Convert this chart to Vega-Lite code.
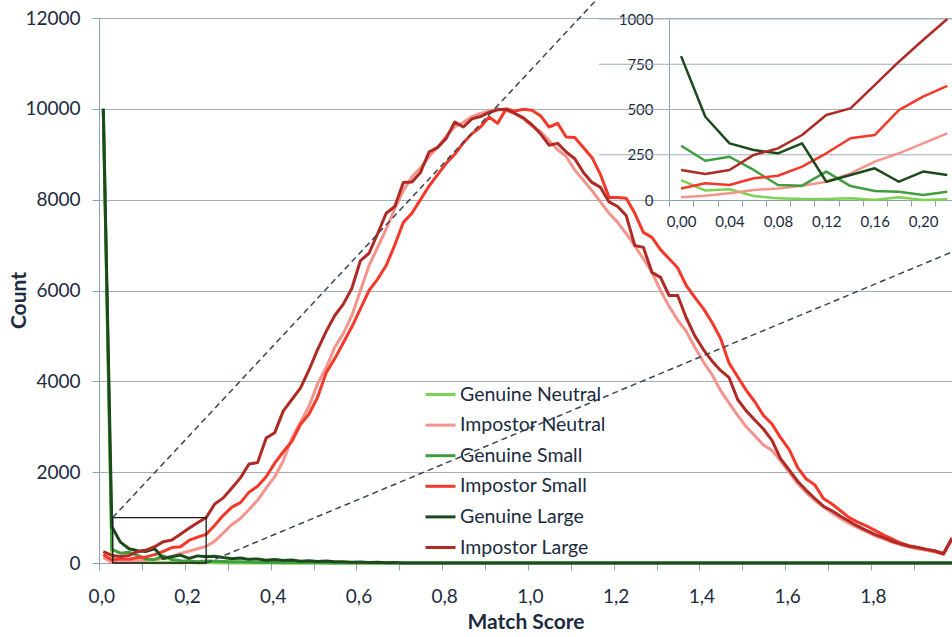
{
  "$schema": "https://vega.github.io/schema/vega-lite/v6.json",
  "width": 853,
  "height": 545,
  "autosize": {"type": "none"},
  "padding": {"left": 99, "top": 18, "right": 0, "bottom": 74},
  "background": "white",
  "config": {"view": {"stroke": null}, "font": "Lato"},
  "datasets": {
    "main": [
      {"x":0.00,"GN":10000,"IN":120,"GS":10000,"IS":180,"GL":10000,"IL":250},
      {"x":0.02,"GN":110,"IN":15,"GS":300,"IS":64,"GL":800,"IL":166},
      {"x":0.04,"GN":52,"IN":24,"GS":217,"IS":92,"GL":460,"IL":144},
      {"x":0.06,"GN":59,"IN":37,"GS":239,"IS":83,"GL":313,"IL":166},
      {"x":0.08,"GN":22,"IN":55,"GS":166,"IS":120,"GL":270,"IL":249},
      {"x":0.10,"GN":9,"IN":64,"GS":83,"IS":134,"GL":255,"IL":285},
      {"x":0.12,"GN":6,"IN":79,"GS":79,"IS":184,"GL":313,"IL":359},
      {"x":0.14,"GN":6,"IN":101,"GS":157,"IS":258,"GL":101,"IL":470},
      {"x":0.16,"GN":9,"IN":147,"GS":77,"IS":341,"GL":138,"IL":506},
      {"x":0.18,"GN":0,"IN":212,"GS":50,"IS":359,"GL":175,"IL":635},
      {"x":0.20,"GN":15,"IN":258,"GS":46,"IS":497,"GL":101,"IL":764},
      {"x":0.22,"GN":0,"IN":313,"GS":28,"IS":571,"GL":157,"IL":884},
      {"x":0.24,"GN":4,"IN":368,"GS":46,"IS":630,"GL":138,"IL":1000},
      {"x":0.26,"GN":3,"IN":480,"GS":40,"IS":830,"GL":150,"IL":1300},
      {"x":0.28,"GN":2,"IN":660,"GS":35,"IS":1050,"GL":120,"IL":1434},
      {"x":0.30,"GN":0,"IN":850,"GS":30,"IS":1230,"GL":95,"IL":1650},
      {"x":0.32,"GN":0,"IN":980,"GS":25,"IS":1330,"GL":110,"IL":1875},
      {"x":0.34,"GN":0,"IN":1180,"GS":20,"IS":1560,"GL":80,"IL":2180},
      {"x":0.36,"GN":0,"IN":1380,"GS":15,"IS":1690,"GL":90,"IL":2210},
      {"x":0.38,"GN":0,"IN":1650,"GS":12,"IS":1900,"GL":60,"IL":2750},
      {"x":0.40,"GN":0,"IN":1900,"GS":10,"IS":2200,"GL":75,"IL":2870},
      {"x":0.42,"GN":0,"IN":2250,"GS":8,"IS":2450,"GL":55,"IL":3350},
      {"x":0.44,"GN":0,"IN":2750,"GS":6,"IS":2680,"GL":65,"IL":3600},
      {"x":0.46,"GN":0,"IN":3100,"GS":5,"IS":3050,"GL":40,"IL":3850},
      {"x":0.48,"GN":0,"IN":3450,"GS":4,"IS":3280,"GL":50,"IL":4250},
      {"x":0.50,"GN":0,"IN":3950,"GS":3,"IS":3650,"GL":35,"IL":4700},
      {"x":0.52,"GN":0,"IN":4300,"GS":2,"IS":4190,"GL":45,"IL":5100},
      {"x":0.54,"GN":0,"IN":4750,"GS":0,"IS":4500,"GL":25,"IL":5450},
      {"x":0.56,"GN":0,"IN":5050,"GS":0,"IS":4850,"GL":30,"IL":5700},
      {"x":0.58,"GN":0,"IN":5450,"GS":0,"IS":5200,"GL":15,"IL":6050},
      {"x":0.60,"GN":0,"IN":6000,"GS":0,"IS":5600,"GL":20,"IL":6660},
      {"x":0.62,"GN":0,"IN":6550,"GS":0,"IS":6000,"GL":10,"IL":6820},
      {"x":0.64,"GN":0,"IN":6950,"GS":0,"IS":6250,"GL":15,"IL":7250},
      {"x":0.66,"GN":0,"IN":7350,"GS":0,"IS":6550,"GL":5,"IL":7700},
      {"x":0.68,"GN":0,"IN":7800,"GS":0,"IS":7000,"GL":10,"IL":7850},
      {"x":0.70,"GN":0,"IN":8200,"GS":0,"IS":7500,"GL":0,"IL":8380},
      {"x":0.72,"GN":0,"IN":8500,"GS":0,"IS":7700,"GL":0,"IL":8390},
      {"x":0.74,"GN":0,"IN":8700,"GS":0,"IS":8000,"GL":0,"IL":8600},
      {"x":0.76,"GN":0,"IN":8950,"GS":0,"IS":8300,"GL":0,"IL":9050},
      {"x":0.78,"GN":0,"IN":9150,"GS":0,"IS":8550,"GL":0,"IL":9150},
      {"x":0.80,"GN":0,"IN":9400,"GS":0,"IS":8800,"GL":0,"IL":9350},
      {"x":0.82,"GN":0,"IN":9600,"GS":0,"IS":9000,"GL":0,"IL":9710},
      {"x":0.84,"GN":0,"IN":9700,"GS":0,"IS":9250,"GL":0,"IL":9600},
      {"x":0.86,"GN":0,"IN":9830,"GS":0,"IS":9450,"GL":0,"IL":9780},
      {"x":0.88,"GN":0,"IN":9900,"GS":0,"IS":9600,"GL":0,"IL":9830},
      {"x":0.90,"GN":0,"IN":9950,"GS":0,"IS":9820,"GL":0,"IL":9920},
      {"x":0.92,"GN":0,"IN":10000,"GS":0,"IS":9680,"GL":0,"IL":9980},
      {"x":0.94,"GN":0,"IN":9960,"GS":0,"IS":10000,"GL":0,"IL":9990},
      {"x":0.96,"GN":0,"IN":9900,"GS":0,"IS":9950,"GL":0,"IL":9900},
      {"x":0.98,"GN":0,"IN":9780,"GS":0,"IS":9990,"GL":0,"IL":9800},
      {"x":1.00,"GN":0,"IN":9620,"GS":0,"IS":9970,"GL":0,"IL":9650},
      {"x":1.02,"GN":0,"IN":9500,"GS":0,"IS":9850,"GL":0,"IL":9450},
      {"x":1.04,"GN":0,"IN":9300,"GS":0,"IS":9600,"GL":0,"IL":9200},
      {"x":1.06,"GN":0,"IN":9100,"GS":0,"IS":9680,"GL":0,"IL":9240},
      {"x":1.08,"GN":0,"IN":8950,"GS":0,"IS":9380,"GL":0,"IL":9050},
      {"x":1.10,"GN":0,"IN":8650,"GS":0,"IS":9370,"GL":0,"IL":8900},
      {"x":1.12,"GN":0,"IN":8430,"GS":0,"IS":9150,"GL":0,"IL":8600},
      {"x":1.14,"GN":0,"IN":8200,"GS":0,"IS":8930,"GL":0,"IL":8380},
      {"x":1.16,"GN":0,"IN":7950,"GS":0,"IS":8550,"GL":0,"IL":8270},
      {"x":1.18,"GN":0,"IN":7700,"GS":0,"IS":8050,"GL":0,"IL":7950},
      {"x":1.20,"GN":0,"IN":7500,"GS":0,"IS":8050,"GL":0,"IL":7850},
      {"x":1.22,"GN":0,"IN":7250,"GS":0,"IS":8030,"GL":0,"IL":7650},
      {"x":1.24,"GN":0,"IN":6980,"GS":0,"IS":7700,"GL":0,"IL":6990},
      {"x":1.26,"GN":0,"IN":6700,"GS":0,"IS":7280,"GL":0,"IL":6950},
      {"x":1.28,"GN":0,"IN":6400,"GS":0,"IS":7170,"GL":0,"IL":6400},
      {"x":1.30,"GN":0,"IN":6000,"GS":0,"IS":6900,"GL":0,"IL":6290},
      {"x":1.32,"GN":0,"IN":5650,"GS":0,"IS":6700,"GL":0,"IL":5890},
      {"x":1.34,"GN":0,"IN":5350,"GS":0,"IS":6500,"GL":0,"IL":5890},
      {"x":1.36,"GN":0,"IN":5100,"GS":0,"IS":6110,"GL":0,"IL":5400},
      {"x":1.38,"GN":0,"IN":4750,"GS":0,"IS":5850,"GL":0,"IL":5000},
      {"x":1.40,"GN":0,"IN":4430,"GS":0,"IS":5600,"GL":0,"IL":4700},
      {"x":1.42,"GN":0,"IN":4150,"GS":0,"IS":5300,"GL":0,"IL":4450},
      {"x":1.44,"GN":0,"IN":3800,"GS":0,"IS":4950,"GL":0,"IL":4240},
      {"x":1.46,"GN":0,"IN":3520,"GS":0,"IS":4400,"GL":0,"IL":4080},
      {"x":1.48,"GN":0,"IN":3250,"GS":0,"IS":4100,"GL":0,"IL":3600},
      {"x":1.50,"GN":0,"IN":3000,"GS":0,"IS":3800,"GL":0,"IL":3350},
      {"x":1.52,"GN":0,"IN":2800,"GS":0,"IS":3550,"GL":0,"IL":3150},
      {"x":1.54,"GN":0,"IN":2600,"GS":0,"IS":3250,"GL":0,"IL":2950},
      {"x":1.56,"GN":0,"IN":2480,"GS":0,"IS":3060,"GL":0,"IL":2700},
      {"x":1.58,"GN":0,"IN":2250,"GS":0,"IS":2760,"GL":0,"IL":2300},
      {"x":1.60,"GN":0,"IN":2000,"GS":0,"IS":2500,"GL":0,"IL":2050},
      {"x":1.62,"GN":0,"IN":1750,"GS":0,"IS":2100,"GL":0,"IL":1800},
      {"x":1.64,"GN":0,"IN":1550,"GS":0,"IS":1850,"GL":0,"IL":1600},
      {"x":1.66,"GN":0,"IN":1380,"GS":0,"IS":1720,"GL":0,"IL":1420},
      {"x":1.68,"GN":0,"IN":1230,"GS":0,"IS":1420,"GL":0,"IL":1250},
      {"x":1.70,"GN":0,"IN":1100,"GS":0,"IS":1300,"GL":0,"IL":1150},
      {"x":1.72,"GN":0,"IN":980,"GS":0,"IS":1150,"GL":0,"IL":1030},
      {"x":1.74,"GN":0,"IN":870,"GS":0,"IS":1000,"GL":0,"IL":920},
      {"x":1.76,"GN":0,"IN":780,"GS":0,"IS":900,"GL":0,"IL":810},
      {"x":1.78,"GN":0,"IN":690,"GS":0,"IS":820,"GL":0,"IL":720},
      {"x":1.80,"GN":0,"IN":600,"GS":0,"IS":720,"GL":0,"IL":630},
      {"x":1.82,"GN":0,"IN":530,"GS":0,"IS":620,"GL":0,"IL":560},
      {"x":1.84,"GN":0,"IN":460,"GS":0,"IS":530,"GL":0,"IL":480},
      {"x":1.86,"GN":0,"IN":400,"GS":0,"IS":440,"GL":0,"IL":420},
      {"x":1.88,"GN":0,"IN":350,"GS":0,"IS":380,"GL":0,"IL":370},
      {"x":1.90,"GN":0,"IN":310,"GS":0,"IS":340,"GL":0,"IL":340},
      {"x":1.92,"GN":0,"IN":280,"GS":0,"IS":300,"GL":0,"IL":300},
      {"x":1.94,"GN":0,"IN":240,"GS":0,"IS":260,"GL":0,"IL":270},
      {"x":1.96,"GN":0,"IN":190,"GS":0,"IS":210,"GL":0,"IL":200},
      {"x":1.98,"GN":0,"IN":520,"GS":0,"IS":540,"GL":0,"IL":550}
    ],
    "inset": [
      {"x":0.00,"GN":110,"IN":15,"GS":300,"IS":64,"GL":795,"IL":166},
      {"x":0.02,"GN":52,"IN":24,"GS":217,"IS":92,"GL":460,"IL":144},
      {"x":0.04,"GN":59,"IN":37,"GS":239,"IS":83,"GL":313,"IL":166},
      {"x":0.06,"GN":22,"IN":55,"GS":166,"IS":120,"GL":276,"IL":249},
      {"x":0.08,"GN":9,"IN":64,"GS":83,"IS":134,"GL":258,"IL":285},
      {"x":0.10,"GN":6,"IN":79,"GS":79,"IS":184,"GL":313,"IL":359},
      {"x":0.12,"GN":6,"IN":101,"GS":157,"IS":258,"GL":101,"IL":470},
      {"x":0.14,"GN":9,"IN":147,"GS":77,"IS":341,"GL":138,"IL":506},
      {"x":0.16,"GN":0,"IN":212,"GS":50,"IS":359,"GL":175,"IL":635},
      {"x":0.18,"GN":15,"IN":258,"GS":46,"IS":497,"GL":101,"IL":764},
      {"x":0.20,"GN":0,"IN":313,"GS":28,"IS":571,"GL":157,"IL":884},
      {"x":0.22,"GN":4,"IN":368,"GS":46,"IS":630,"GL":138,"IL":1000}
    ]
  },
  "layer": [
    {
      "layer": [
        {
          "data": {"name": "main"},
          "transform": [{"fold": ["GN", "IN", "GS", "IS", "GL", "IL"], "as": ["series", "count"]}],
          "mark": {"type": "line", "strokeWidth": 3, "strokeJoin": "round"},
          "encoding": {
            "x": {
              "field": "x", "type": "quantitative",
              "scale": {"domain": [-0.01, 1.98], "nice": false, "zero": false},
              "axis": {
                "values": [0,0.1,0.2,0.3,0.4,0.5,0.6,0.7,0.8,0.9,1.0,1.1,1.2,1.3,1.4,1.5,1.6,1.7,1.8,1.9],
                "labelExpr": "round(datum.value*10)%2==0 ? replace(format(datum.value,'.1f'),'.',',') : ''",
                "tickOffset": -4, "labelOffset": 2,
                "grid": false, "domainColor": "#8fa2b4", "tickColor": "#8fa2b4", "tickSize": 7,
                "labelFontSize": 19, "labelColor": "#1c2b40", "labelPadding": 17, "labelFlush": false, "labelOverlap": false,
                "title": "Match Score", "titleFontSize": 21, "titleFontWeight": "bold", "titleColor": "#1c2b40", "titlePadding": 5
              }
            },
            "y": {
              "field": "count", "type": "quantitative",
              "scale": {"domain": [0, 12000], "nice": false},
              "axis": {
                "values": [0,2000,4000,6000,8000,10000,12000], "format": "d",
                "grid": true, "gridColor": "#a3b0bc", "domainColor": "#8fa2b4", "tickColor": "#8fa2b4", "tickSize": 7,
                "labelFontSize": 19, "labelColor": "#1c2b40", "labelPadding": 12,
                "title": "Count", "titleFontSize": 21, "titleFontWeight": "bold", "titleColor": "#1c2b40",
                "titleX": -70, "titleY": 282
              }
            },
            "color": {
              "field": "series", "type": "nominal",
              "scale": {"domain": ["GN", "IN", "GS", "IS", "GL", "IL"], "range": ["#7dd34f", "#f4948c", "#3f9f3f", "#f5382a", "#1c4a1c", "#b02a25"]},
              "legend": {
                "title": null, "orient": "none", "legendX": 325, "legendY": 360,
                "symbolType": "stroke", "symbolSize": 900, "symbolStrokeWidth": 3,
                "labelFontSize": 19.5, "labelColor": "#1c2b40", "labelOffset": 3, "rowPadding": 4.6,
                "labelExpr": "datum.label=='GN'?'Genuine Neutral':datum.label=='IN'?'Impostor Neutral':datum.label=='GS'?'Genuine Small':datum.label=='IS'?'Impostor Small':datum.label=='GL'?'Genuine Large':'Impostor Large'"
              }
            }
          }
        },
        {
          "data": {"values": [{"x1": 0.022, "x2": 0.24, "y1": 0, "y2": 1000}]},
          "mark": {"type": "rect", "filled": false, "stroke": "#1a1a1a", "strokeWidth": 1.3},
          "encoding": {
            "x": {"field": "x1", "type": "quantitative"},
            "x2": {"field": "x2"},
            "y": {"field": "y1", "type": "quantitative"},
            "y2": {"field": "y2"}
          }
        },
        {
          "data": {"values": [
            {"g": "a", "x": 0.022, "y": 1000}, {"g": "a", "x": 1.15, "y": 12396},
            {"g": "b", "x": 0.24, "y": 0}, {"g": "b", "x": 1.98, "y": 6848}
          ]},
          "mark": {"type": "line", "strokeDash": [6, 4], "strokeWidth": 1.5, "color": "#3d4650"},
          "encoding": {
            "x": {"field": "x", "type": "quantitative"},
            "y": {"field": "y", "type": "quantitative"},
            "detail": {"field": "g"}
          }
        }
      ]
    },
    {
      "layer": [
        {
          "data": {"values": [{"g": 250}, {"g": 500}, {"g": 750}, {"g": 1000}]},
          "mark": {"type": "rule", "color": "#a3b0bc", "strokeWidth": 1},
          "encoding": {
            "x": {"datum": -0.068, "type": "quantitative"},
            "x2": {"datum": 0.23},
            "y": {"field": "g", "type": "quantitative"}
          }
        },
        {
          "data": {"name": "inset"},
          "transform": [{"fold": ["GN", "IN", "GS", "IS", "GL", "IL"], "as": ["series", "count"]}],
          "mark": {"type": "line", "strokeWidth": 2.5, "strokeJoin": "round"},
          "encoding": {
            "x": {
              "field": "x", "type": "quantitative",
              "scale": {"domain": [-0.01, 0.23], "range": [570, 860.4], "nice": false, "zero": false},
              "axis": {
                "orient": "bottom", "offset": -363,
                "values": [0,0.02,0.04,0.06,0.08,0.1,0.12,0.14,0.16,0.18,0.2,0.22],
                "labelExpr": "round(datum.value*50)%2==0 ? replace(format(datum.value,'.2f'),'.',',') : ''",
                "tickOffset": -12, "labelOffset": 12,
                "grid": false, "domainColor": "#8fa2b4", "tickColor": "#8fa2b4", "tickSize": 6,
                "labelFontSize": 15, "labelColor": "#1c2b40", "labelPadding": 8, "labelFlush": false, "labelOverlap": false,
                "title": null
              }
            },
            "y": {
              "field": "count", "type": "quantitative",
              "scale": {"domain": [0, 1000], "range": [182, 1], "nice": false},
              "axis": {
                "orient": "left", "offset": -570,
                "values": [0, 250, 500, 750, 1000], "format": "d",
                "grid": false, "ticks": false, "domainColor": "#8fa2b4",
                "labelFontSize": 15, "labelColor": "#1c2b40", "labelPadding": 16,
                "title": null
              }
            },
            "color": {
              "field": "series", "type": "nominal",
              "scale": {"domain": ["GN", "IN", "GS", "IS", "GL", "IL"], "range": ["#7dd34f", "#f4948c", "#3f9f3f", "#f5382a", "#1c4a1c", "#b02a25"]},
              "legend": {
                "title": null, "orient": "none", "legendX": 325, "legendY": 360,
                "symbolType": "stroke", "symbolSize": 900, "symbolStrokeWidth": 3,
                "labelFontSize": 19.5, "labelColor": "#1c2b40", "labelOffset": 3, "rowPadding": 4.6,
                "labelExpr": "datum.label=='GN'?'Genuine Neutral':datum.label=='IN'?'Impostor Neutral':datum.label=='GS'?'Genuine Small':datum.label=='IS'?'Impostor Small':datum.label=='GL'?'Genuine Large':'Impostor Large'"
              }
            }
          }
        }
      ]
    }
  ],
  "resolve": {"scale": {"x": "independent", "y": "independent"}}
}
